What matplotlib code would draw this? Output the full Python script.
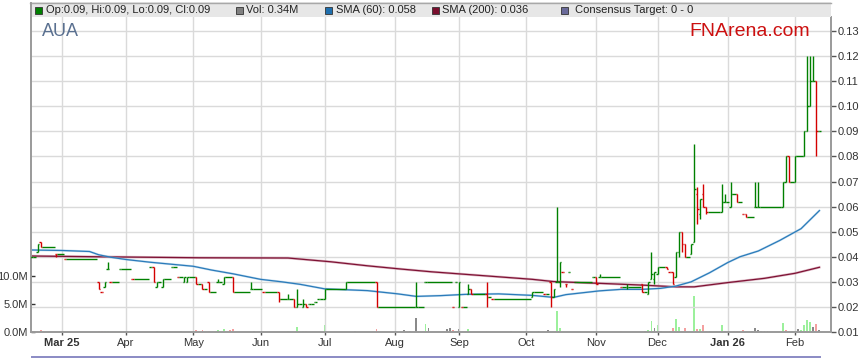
import numpy as np
import matplotlib
matplotlib.use("Agg")
import matplotlib.pyplot as plt
from matplotlib.collections import LineCollection
from matplotlib.patches import Rectangle
from matplotlib.lines import Line2D

plt.rcParams['font.family'] = ['Liberation Sans', 'DejaVu Sans']

# ---------------- data ----------------
bar_dates = ['2025-02-17', '2025-02-19', '2025-02-20', '2025-02-27', '2025-03-04', '2025-03-19',
             '2025-03-20', '2025-03-21', '2025-03-24', '2025-03-25', '2025-03-28', '2025-04-03',
             '2025-04-11', '2025-04-14', '2025-04-15', '2025-04-17', '2025-04-22', '2025-04-24',
             '2025-04-28', '2025-04-29', '2025-05-02', '2025-05-06', '2025-05-08', '2025-05-13',
             '2025-05-15', '2025-05-20', '2025-05-28', '2025-06-03', '2025-06-10', '2025-06-13',
             '2025-06-17', '2025-06-18', '2025-06-20', '2025-06-23', '2025-06-24', '2025-06-26',
             '2025-06-27', '2025-07-01', '2025-07-10', '2025-07-24', '2025-08-12', '2025-08-15',
             '2025-08-28', '2025-08-29', '2025-09-01', '2025-09-02', '2025-09-04', '2025-09-05',
             '2025-09-12', '2025-09-16', '2025-10-03', '2025-10-09', '2025-10-13', '2025-10-14',
             '2025-10-15', '2025-10-16', '2025-10-17', '2025-10-20', '2025-10-21', '2025-10-22',
             '2025-10-23', '2025-10-31', '2025-11-03', '2025-11-04', '2025-11-13', '2025-11-17',
             '2025-11-24', '2025-11-26', '2025-11-27', '2025-11-28', '2025-12-01', '2025-12-04',
             '2025-12-05', '2025-12-08', '2025-12-09', '2025-12-10', '2025-12-11', '2025-12-12',
             '2025-12-16', '2025-12-17', '2025-12-18', '2025-12-19', '2025-12-22', '2025-12-23',
             '2025-12-30', '2025-12-31', '2026-01-02', '2026-01-06', '2026-01-08', '2026-01-09',
             '2026-01-14', '2026-01-15', '2026-01-27', '2026-01-28', '2026-01-29', '2026-02-02',
             '2026-02-05', '2026-02-06', '2026-02-09', '2026-02-10', '2026-02-11', '2026-02-12']
opens = [.040, .042, .046, .041, .039, .030, .026, .028, .035, .030, .035, .031,
         .036, .036, .028, .028, .036, .032, .030, .030, .032, .029, .030, .030,
         .029, .032, .027, .026, .026, .023, .023, .020, .020, .021, .021, .022,
         .023, .023, .027, .030, .020, .030, .020, .030, .020, .020, .025, .027,
         .025, .023, .024, .025, .030, .024, .030, .030, .034, .029, .034, .027,
         .030, .032, .032, .032, .028, .028, .029, .025, .031, .031, .033, .036,
         .034, .034, .032, .042, .050, .045, .041, .046, .065, .057, .065, .060,
         .058, .062, .060, .065, .057, .057, .060, .060, .060, .070, .080, .070,
         .080, .090, .100, .110, .110, .090]
highs = [.040, .045, .046, .041, .039, .030, .026, .030, .038, .030, .035, .031,
         .036, .036, .030, .031, .036, .032, .032, .032, .032, .029, .030, .031,
         .032, .032, .030, .026, .026, .025, .023, .027, .023, .021, .021, .022,
         .023, .027, .030, .030, .030, .030, .020, .030, .030, .020, .029, .027,
         .030, .023, .026, .025, .030, .027, .060, .038, .034, .029, .034, .027,
         .030, .032, .032, .033, .028, .029, .029, .030, .042, .034, .036, .036,
         .034, .034, .042, .050, .050, .045, .045, .085, .068, .063, .069, .060,
         .069, .065, .070, .065, .057, .057, .070, .070, .070, .080, .080, .080,
         .090, .120, .120, .120, .110, .090]
lows = [.040, .042, .044, .040, .039, .027, .026, .028, .035, .030, .035, .031,
        .036, .030, .028, .028, .036, .032, .030, .030, .029, .027, .026, .030,
        .029, .026, .027, .026, .022, .023, .020, .020, .020, .020, .021, .022,
        .023, .023, .027, .020, .020, .030, .020, .030, .020, .020, .025, .025,
        .020, .023, .024, .025, .020, .024, .030, .028, .034, .028, .034, .027,
        .030, .032, .029, .032, .028, .027, .026, .025, .031, .029, .033, .035,
        .034, .029, .032, .040, .042, .040, .041, .046, .053, .055, .060, .057,
        .058, .062, .060, .062, .057, .056, .060, .060, .060, .070, .070, .070,
        .080, .090, .100, .110, .080, .090]
closes = [.040, .045, .044, .041, .039, .027, .026, .030, .035, .030, .035, .031,
          .036, .030, .030, .031, .036, .032, .032, .032, .029, .027, .026, .030,
          .032, .026, .027, .026, .023, .023, .020, .021, .021, .020, .021, .022,
          .023, .027, .030, .020, .020, .030, .020, .030, .030, .020, .027, .025,
          .024, .023, .026, .025, .024, .027, .030, .038, .034, .029, .034, .027,
          .030, .032, .029, .032, .028, .028, .026, .030, .033, .034, .036, .035,
          .034, .029, .042, .050, .045, .040, .045, .067, .059, .063, .060, .058,
          .062, .062, .065, .062, .057, .056, .060, .060, .070, .080, .070, .080,
          .090, .100, .110, .110, .090, .090]

vol_dates = ['2025-02-19', '2025-02-20', '2025-03-19', '2025-03-20', '2025-03-21', '2025-03-24',
             '2025-04-15', '2025-04-25', '2025-05-02', '2025-05-06', '2025-05-08', '2025-05-13',
             '2025-05-15', '2025-05-19', '2025-05-20', '2025-05-29', '2025-06-03', '2025-06-13',
             '2025-06-18', '2025-06-20', '2025-06-23', '2025-07-01', '2025-07-15', '2025-07-24',
             '2025-08-06', '2025-08-08', '2025-08-12', '2025-08-15', '2025-08-18', '2025-08-26',
             '2025-08-27', '2025-08-28', '2025-09-01', '2025-09-04', '2025-09-12', '2025-09-24',
             '2025-10-01', '2025-10-07', '2025-10-10', '2025-10-15', '2025-10-16', '2025-11-03',
             '2025-11-13', '2025-11-25', '2025-11-26', '2025-11-27', '2025-11-28', '2025-12-01',
             '2025-12-02', '2025-12-05', '2025-12-08', '2025-12-09', '2025-12-10', '2025-12-11',
             '2025-12-12', '2025-12-17', '2025-12-18', '2025-12-19', '2025-12-22', '2025-12-23',
             '2025-12-24', '2025-12-30', '2025-12-31', '2026-01-05', '2026-01-06', '2026-01-08',
             '2026-01-13', '2026-01-14', '2026-01-15', '2026-01-16', '2026-01-19', '2026-01-20',
             '2026-01-27', '2026-01-28', '2026-01-29', '2026-01-30', '2026-02-02', '2026-02-03',
             '2026-02-04', '2026-02-05', '2026-02-06', '2026-02-09', '2026-02-10', '2026-02-11',
             '2026-02-12']
vol_millions = [0.15, 0.4, 0.15, 0.15, 0.15, 0.15, 0.1, 0.1, 0.3, 0.3, 0.25, 0.3,
                0.6, 0.3, 0.5, 0.1, 0.2, 0.15, 0.9, 0.15, 0.15, 1.2, 0.1, 0.5,
                0.3, 0.15, 2.5, 1.4, 0.65, 0.5, 0.65, 0.3, 0.5, 0.5, 0.15, 0.1,
                0.1, 0.1, 0.35, 3.7, 0.7, 0.35, 0.15, 0.1, 0.4, 1.9, 0.7, 1.2,
                0.1, 0.2, 0.7, 2.3, 0.9, 0.2, 0.7, 6.4, 0.5, 0.5, 1.2, 0.2,
                0.1, 1.2, 0.2, 0.1, 0.15, 0.4, 0.1, 0.75, 0.35, 0.1, 0.1, 0.1,
                1.6, 0.35, 0.2, 0.2, 0.2, 0.6, 0.35, 1.3, 2.1, 1.8, 0.9, 1.5,
                0.34]
vol_kind = ['d', 'd', 'd', 'd', 'u', 'u', 'f', 'f', 'd', 'd', 'd', 'u',
            'u', 'd', 'd', 'f', 'd', 'u', 'u', 'u', 'd', 'u', 'f', 'd',
            'f', 'f', 'f', 'u', 'f', 'f', 'f', 'd', 'f', 'u', 'd', 'f',
            'f', 'f', 'f', 'u', 'u', 'd', 'd', 'f', 'u', 'u', 'f', 'u',
            'f', 'd', 'd', 'u', 'u', 'd', 'd', 'u', 'd', 'u', 'd', 'd',
            'f', 'u', 'f', 'd', 'd', 'd', 'f', 'f', 'f', 'f', 'f', 'f',
            'u', 'd', 'd', 'u', 'u', 'f', 'u', 'u', 'u', 'u', 'f', 'd',
            'f']

sma60_dates = ['2025-02-17', '2025-03-03', '2025-03-14', '2025-03-19', '2025-03-25', '2025-04-01',
               '2025-04-11', '2025-04-22', '2025-05-01', '2025-05-09', '2025-05-20', '2025-06-02',
               '2025-06-11', '2025-06-19', '2025-07-01', '2025-07-21', '2025-08-04', '2025-08-12',
               '2025-08-22', '2025-09-03', '2025-09-18', '2025-10-03', '2025-10-14', '2025-10-20',
               '2025-11-04', '2025-11-13', '2025-11-24', '2025-12-02', '2025-12-09', '2025-12-16',
               '2025-12-24', '2026-01-01', '2026-01-07', '2026-01-15', '2026-01-26', '2026-02-04',
               '2026-02-12']
sma60_vals = [.0427, .0425, .0421, .0408, .0398, .0389, .0378, .0370, .0362, .0347, .0332, .0310,
              .0300, .0290, .0272, .0265, .0252, .0242, .0245, .0250, .0252, .0246, .0238, .0249,
              .0264, .0270, .0270, .0274, .0283, .0300, .0336, .0377, .0400, .0423, .0465, .0512,
              .0584]
sma200_dates = ['2025-02-17', '2025-03-19', '2025-05-05', '2025-06-13', '2025-07-03', '2025-07-21',
                '2025-08-05', '2025-08-19', '2025-09-03', '2025-09-18', '2025-10-03', '2025-10-14',
                '2025-11-04', '2025-11-24', '2025-12-09', '2025-12-17', '2026-01-01', '2026-01-19',
                '2026-02-02', '2026-02-12']
sma200_vals = [.0403, .0400, .0396, .0395, .0380, .0364, .0351, .0340, .0330, .0320, .0310, .0301,
               .0294, .0287, .0280, .0280, .0297, .0314, .0334, .0358]

month_dates = ['2025-03-03', '2025-04-01', '2025-05-01', '2025-06-02', '2025-07-01', '2025-08-01',
               '2025-09-01', '2025-10-01', '2025-11-03', '2025-12-01', '2026-01-01', '2026-02-02']
month_labels = ['Mar 25', 'Apr', 'May', 'Jun', 'Jul', 'Aug', 'Sep', 'Oct', 'Nov', 'Dec', 'Jan 26', 'Feb']
bold_labels = ['Mar 25', 'Jan 26']
price_ticks = [0.01, 0.02, 0.03, 0.04, 0.05, 0.06, 0.07, 0.08, 0.09, 0.10, 0.11, 0.12, 0.13]
vol_ticks = [0, 5, 10]

legend_items = [('Op:0.09, Hi:0.09, Lo:0.09, Cl:0.09', '#008000'),
                ('Vol: 0.34M', '#808080'),
                ('SMA (60): 0.058', '#1f6fae'),
                ('SMA (200): 0.036', '#7a0f2e'),
                ('Consensus Target: 0 - 0', '#6a6a9a')]

# ---------------- layout ----------------
W, H = 859, 363
L, R, T, B = 31, 831, 17, 332
ORIGIN = '2025-03-03'


def xpos(ds):
    return np.busday_count(ORIGIN, np.array(ds, dtype='datetime64[D]')).astype(float)


fig = plt.figure(figsize=(W / 100, H / 100), dpi=100)
pos = [L / W, 1 - B / H, (R - L) / W, (B - T) / H]
ax_v = fig.add_axes(pos)
ax = fig.add_axes(pos, sharex=ax_v)
ax.patch.set_visible(False)

GREEN, RED = '#008000', '#d40000'
GRID = '#dadada'
AXC = '#9a9a9a'
TXT = '#333333'

# x range
ax.set_xlim(-10.15, 251.8)

# --- volume axis (left) ---
ax_v.set_ylim(0, 56.25)
ax_v.set_yticks(vol_ticks)
ax_v.set_yticklabels([f'{v:.1f}M' for v in vol_ticks])
ax_v.tick_params(axis='y', direction='in', length=3, width=1, color='#333333',
                 labelsize=8, labelcolor=TXT, pad=2.5)
ax_v.tick_params(axis='x', bottom=False, labelbottom=False)
for s in ax_v.spines.values():
    s.set_visible(False)
vx = xpos(vol_dates)
vcol = {'u': '#9cf09c', 'd': '#f4a0a0', 'f': '#8a8a8a'}
ax_v.bar(vx, vol_millions, width=0.6, color=[vcol[k] for k in vol_kind], linewidth=0, zorder=2)

# --- price axis (right) ---
ax.set_ylim(0.01, 0.01 + (B - T) / 2508.0)
ax.yaxis.tick_right()
ax.set_yticks(price_ticks)
ax.set_yticklabels([f'{p:.2f}' for p in price_ticks])
ax.tick_params(axis='y', direction='out', length=3.5, width=1, color='#555555',
               labelsize=8, labelcolor=TXT, pad=1.5, left=False)
mx = xpos(month_dates)
ax.set_xticks(mx)
ax.set_xticklabels(month_labels)
for lab in ax.get_xticklabels():
    if lab.get_text() in bold_labels:
        lab.set_fontweight('bold')
ax.tick_params(axis='x', direction='out', length=2.5, width=1, color='#555555',
               labelsize=8, labelcolor=TXT, pad=2)
ax.grid(True, color=GRID, linewidth=1.0, zorder=0)
ax.set_axisbelow(True)
for side in ['left', 'right', 'bottom']:
    ax.spines[side].set_color(AXC)
    ax.spines[side].set_linewidth(1.4)
ax.spines['top'].set_visible(False)

# SMA lines
ax.plot(xpos(sma200_dates), sma200_vals, color='#c98ca0', lw=1.8, zorder=2, alpha=0.6)
ax.plot(xpos(sma200_dates), sma200_vals, color='#7e1234', lw=0.9, zorder=2)
ax.plot(xpos(sma60_dates), sma60_vals, color='#8fbfe0', lw=1.6, zorder=2, alpha=0.5)
ax.plot(xpos(sma60_dates), sma60_vals, color='#2b7bba', lw=0.9, zorder=2)

# OHLC bars
bx = xpos(bar_dates)
segs, cols = [], []
hw = 0.45
prev = None
for i in range(len(bx)):
    x = bx[i]
    o, h, l, c = opens[i], highs[i], lows[i], closes[i]
    col = RED if (prev is not None and c < prev) else GREEN
    prev = c
    segs.append([(x, l), (x, h)]); cols.append(col)
    segs.append([(x - hw, o), (x, o)]); cols.append(col)
    segs.append([(x, c), (x + hw, c)]); cols.append(col)
    if i + 1 < len(bx) and bx[i + 1] - x > 1:
        segs.append([(x + hw, c), (bx[i + 1] - hw, c)]); cols.append(GREEN)
ax.add_collection(LineCollection(segs, colors=cols, linewidths=1.0, zorder=3,
                                 capstyle='butt'))

# ---------------- legend band & decorations ----------------
def fx(px):
    return px / W


def fy(py):
    return 1 - py / H


fig.add_artist(Rectangle((fx(30), fy(17)), fx(831) - fx(30), fy(2.5) - fy(17),
                         transform=fig.transFigure, facecolor='#e7e7e7', edgecolor='none', zorder=5))
fig.add_artist(Line2D([fx(30), fx(831)], [fy(2.5), fy(2.5)], transform=fig.transFigure,
                      color='#a8a8a8', lw=1.0, zorder=6))
fig.add_artist(Line2D([fx(30.6), fx(30.6)], [fy(2.5), fy(17)], transform=fig.transFigure,
                      color=AXC, lw=1.4, zorder=6))

sq_x = [35, 236, 325, 432, 561]
tx_x = [46, 246, 336, 442, 575]
for (label, colr), sx, tx in zip(legend_items, sq_x, tx_x):
    fig.add_artist(Rectangle((fx(sx), fy(13.5)), fx(sx + 6.5) - fx(sx), fy(7) - fy(13.5),
                             transform=fig.transFigure, facecolor=colr, edgecolor='#333333',
                             lw=0.6, zorder=7))
    fig.text(fx(tx), fy(10.3), label, fontsize=8, color='#222222', va='center', ha='left', zorder=7)

fig.text(fx(42), fy(31), 'AUA', fontsize=13, color='#5a7090', va='center', ha='left')
fig.text(fx(750), fy(31), 'FNArena.com', fontsize=14, color='#cc1010', va='center', ha='center')

# navigator line under the axis
fig.add_artist(Line2D([fx(32), fx(820)], [fy(357), fy(357)], transform=fig.transFigure,
                      color='#8a8ac4', lw=1.4))

fig.savefig('out.png', dpi=100)
